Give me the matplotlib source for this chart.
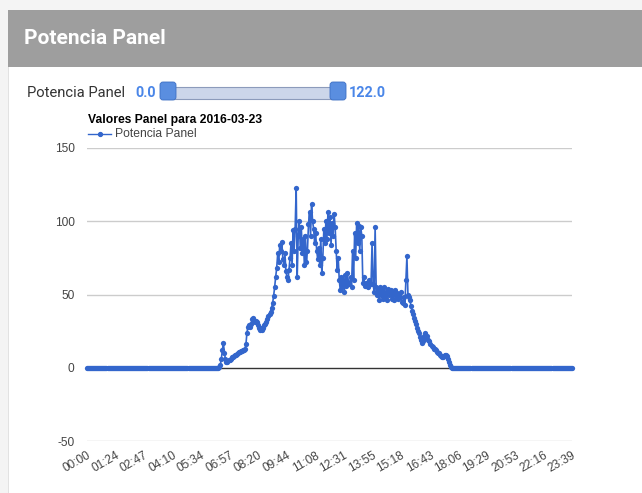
import numpy as np
import matplotlib
matplotlib.use("Agg")
import matplotlib.pyplot as plt
from matplotlib.patches import Rectangle, FancyBboxPatch
from matplotlib.transforms import IdentityTransform

plt.rcParams["axes.unicode_minus"] = False

# ---------------- data ----------------
title = "Valores Panel para 2016-03-23"
series_name = "Potencia Panel"
slider_min = "0.0"
slider_max = "122.0"
tick_labels = ["00:00", "01:24", "02:47", "04:10", "05:34", "06:57", "08:20", "09:44",
               "11:08", "12:31", "13:55", "15:18", "16:43", "18:06", "19:29", "20:53",
               "22:16", "23:39"]
tick_minutes = [0, 84, 167, 250, 334, 417, 500, 584, 668, 751, 835, 918, 1003, 1086,
                1169, 1253, 1336, 1419]
y_ticks = [-50, 0, 50, 100, 150]

# night readings (3-minute sampling), all zero
night_am_start, night_am_values = 0, [0.0] * 127          # 00:00 .. 06:18
night_pm_start, night_pm_values = 1071, [0.0] * 117       # 17:51 .. 23:39
# daytime readings (3-minute sampling from 06:21)
day_start = 381
day_values = [
    0, 0, 0.5, 2, 6, 12, 17, 10, 6, 4, 4, 5, 5.5, 6, 7, 7.5, 8, 8.5, 9, 9.5,
    10, 10.5, 11, 11.5, 11.5, 12, 12, 12.5, 16, 24, 28, 29, 28, 30, 33, 34, 32, 31, 32, 31,
    29, 27, 26, 27, 26, 27, 29, 30, 31, 33, 35, 37, 38, 41, 44, 49, 55, 62, 68, 78,
    72, 84, 80, 86, 74, 70, 78, 66, 62, 60, 67, 75, 85, 70, 94, 80, 95, 123, 62, 90,
    100, 82, 96, 78, 88, 70, 90, 72, 80, 98, 106, 90, 112, 100, 95, 85, 92, 80, 74, 82,
    70, 88, 65, 75, 95, 85, 100, 88, 106, 92, 103, 84, 99, 90, 105, 96, 80, 67, 75, 60,
    53, 62, 55, 60, 52, 63, 56, 65, 58, 57, 62, 55, 80, 60, 92, 75, 99, 85, 97, 80,
    96, 90, 58, 62, 56, 58, 56, 55, 60, 58, 57, 85, 57, 52, 96, 55, 50, 54, 46, 55,
    50, 53, 47, 55, 49, 52, 46, 54, 50, 53, 47, 51, 46, 53, 49, 51, 47, 50, 48, 52,
    45, 44, 48, 43, 60, 76, 50, 48, 46, 42, 39, 37, 34, 32, 30, 27, 25, 24, 21, 19,
    17, 18, 22, 24, 20, 22, 19, 18, 16, 15, 14, 13, 13, 12, 11, 10, 10, 9, 8, 7,
    7, 8, 9, 9, 8, 6, 4, 2, 0.5, 0,
]
sample_step = 3

# ---------------- assemble ----------------
t_am = night_am_start + sample_step * np.arange(len(night_am_values))
t_day = day_start + sample_step * np.arange(len(day_values))
t_pm = night_pm_start + sample_step * np.arange(len(night_pm_values))
t_all = np.concatenate([t_am, t_day, t_pm])
v_all = np.concatenate([night_am_values, day_values, night_pm_values])

W, H = 642, 493
fig = plt.figure(figsize=(W / 100, H / 100), dpi=100)
fig.patch.set_facecolor("white")
ID = IdentityTransform()

def box(x0, y0, x1, y1, **kw):
    fig.add_artist(Rectangle((x0, H - y1), x1 - x0, y1 - y0, transform=ID, **kw))

# page chrome
box(0, 0, W, 10, facecolor="#f4f4f4", edgecolor="none")
box(0, 0, 8, H, facecolor="#f4f4f4", edgecolor="none")
box(8, 10, W, 67, facecolor="#9e9e9e", edgecolor="none")
box(8, 67, 9, H, facecolor="#e2e2e2", edgecolor="none")

fig.text(24 / W, 1 - 39 / H, "Potencia Panel", color="white", fontsize=15,
         fontweight="bold", family="Roboto", va="center", ha="left")

# slider
fig.text(27 / W, 1 - 93 / H, "Potencia Panel", color="#333333", fontsize=10.6,
         family="Roboto", va="center", ha="left")
fig.text(135 / W, 1 - 93 / H, slider_min, color="#4a86e8", fontsize=10.4,
         fontweight="bold", family="Roboto", va="center", ha="left")
fig.text(349 / W, 1 - 93 / H, slider_max, color="#4a86e8", fontsize=10.4,
         fontweight="bold", family="Roboto", va="center", ha="left")
box(168, 87, 338, 99, facecolor="#ccd6ea", edgecolor="#8c9bbb", linewidth=0.8)
for hx in (160, 330):
    fig.add_artist(FancyBboxPatch((hx + 2, H - 100 + 2), 12, 14,
                                  boxstyle="round,pad=2,rounding_size=3",
                                  transform=ID, facecolor="#5a8ee0",
                                  edgecolor="#3d6fc4", linewidth=0.6))

# chart title + legend
fig.text(88 / W, 1 - 120 / H, title, color="black", fontsize=8.7,
         fontweight="bold", family="Liberation Sans", va="center", ha="left")
fig.add_artist(plt.Line2D([88 / W, 111 / W], [1 - 134 / H] * 2, color="#3366cc",
                          linewidth=1, transform=fig.transFigure))
fig.add_artist(plt.Line2D([99.5 / W], [1 - 134 / H], color="#3366cc", marker="o",
                          markersize=2.8, transform=fig.transFigure))
fig.text(115 / W, 1 - 134 / H, series_name, color="#444444", fontsize=8.7,
         family="Liberation Sans", va="center", ha="left")

# axes
left, right, top, bottom = 87, 572, 148, 441
ax = fig.add_axes([left / W, 1 - bottom / H, (right - left) / W, (bottom - top) / H])
ax.set_facecolor("none")
for s in ax.spines.values():
    s.set_visible(False)
ax.set_xlim(0, 1419)
ax.set_ylim(-50, 150)
ax.set_yticks(y_ticks)
for yv in y_ticks:
    ax.axhline(yv, color="#333333" if yv == 0 else "#cccccc", linewidth=1, zorder=1)
ax.plot(t_all, v_all, color="#3366cc", linewidth=1.2, marker="o", markersize=3.8,
        markeredgewidth=0, zorder=3, clip_on=False)
ax.set_xticks(tick_minutes)
ax.set_xticklabels(tick_labels, rotation=30, ha="right", rotation_mode="anchor")
ax.tick_params(axis="both", length=0, labelsize=8.6, labelcolor="#444444")
ax.tick_params(axis="x", pad=6)
ax.tick_params(axis="y", pad=9)
for lab in ax.get_xticklabels() + ax.get_yticklabels():
    lab.set_family("Liberation Sans")

fig.savefig("out.png", dpi=100)
